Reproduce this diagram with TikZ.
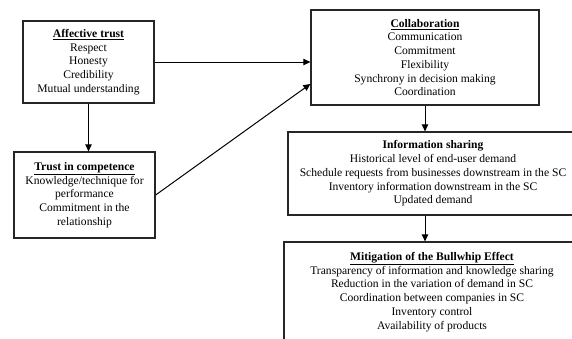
\documentclass[tikz,border=0pt]{standalone}
\usepackage{fontspec}
\setmainfont{Liberation Serif}
\usetikzlibrary{positioning,shapes,arrows.meta}

\begin{document}
\begin{tikzpicture}[x=1pt, y=-1pt,
    box/.style={draw=black!85, line width=1.3pt, rectangle, align=center, inner sep=2pt,
        font=\fontsize{11.6}{13.7}\selectfont},
    link/.style={-{Triangle[length=7pt,width=6.5pt]}, line width=1pt}]
    \useasboundingbox (0,0) rectangle (572,338);
    \clip (0,0) rectangle (572,338);
    \node[box, minimum width=131pt, minimum height=82pt] (affect) at (88.5,62) {\underline{\textbf{Affective trust}}\\ Respect\\ Honesty\\ Credibility\\ Mutual understanding};
    \node[box, minimum width=141pt, minimum height=86pt] (trust) at (84.5,195) {\underline{\textbf{Trust in competence}}\\ Knowledge/technique for\\ performance\\ Commitment in the\\ relationship};
    \node[box, minimum width=228pt, minimum height=95pt] (collab) at (425,57.5) {\underline{\textbf{Collaboration}}\\ Communication\\ Commitment\\ Flexibility\\ Synchrony in decision making\\ Coordination};
    \node[box, minimum width=290pt, minimum height=83pt] (info) at (433,173.5) {\textbf{Information sharing}\\ Historical level of end-user demand\\ Schedule requests from businesses downstream in the SC\\ Inventory information downstream in the SC\\ Updated demand};
    \node[box, minimum width=296pt, minimum height=100pt] (mitig) at (432,292) {\underline{\textbf{Mitigation of the Bullwhip Effect}}\\ Transparency of information and knowledge sharing\\ Reduction in the variation of demand in SC\\ Coordination between companies in SC\\ Inventory control\\ Availability of products};
    \draw[link] (affect.east) -- (affect.east -| collab.west);
    \draw[link] (affect.south) -- (affect.south |- trust.north);
    \draw[link] (trust.east) -- (collab.193);
    \draw[link] (collab.south) -- (collab.south |- info.north);
    \draw[link] (collab.south |- info.south) -- (collab.south |- mitig.north);
\end{tikzpicture}
\end{document}
